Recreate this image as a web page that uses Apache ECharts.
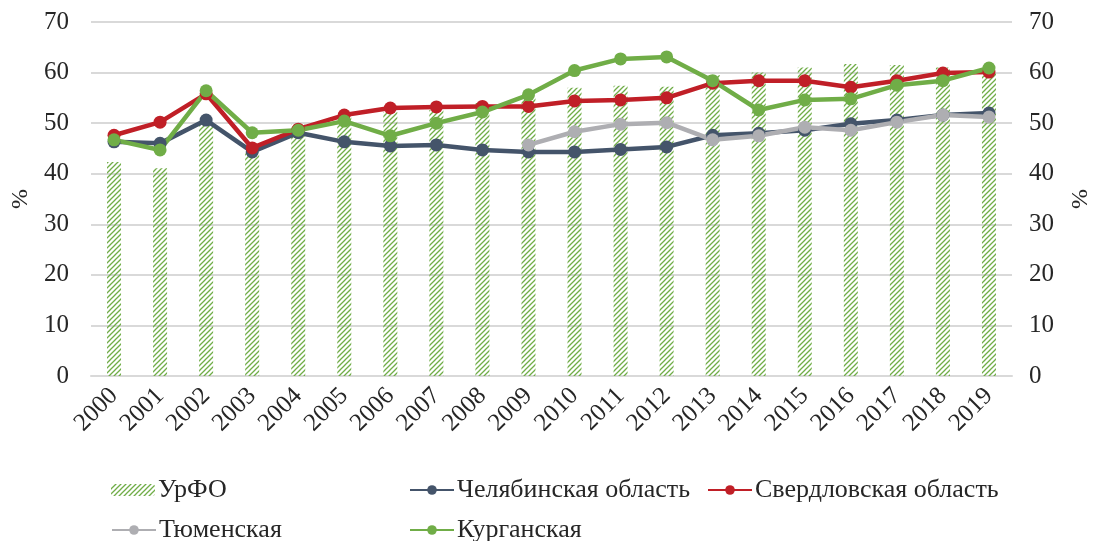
<!DOCTYPE html>
<html>
<head>
<meta charset="utf-8">
<script src="https://cdn.jsdelivr.net/npm/echarts@6/dist/echarts.min.js"></script>
<style>html,body{margin:0;padding:0;background:#fff;}#c{width:1094px;height:541px;}</style>
</head>
<body>
<div id="c"></div>
<script>
const years = ['2000','2001','2002','2003','2004','2005','2006','2007','2008','2009','2010','2011','2012','2013','2014','2015','2016','2017','2018','2019'];
const urfo = [42.3,41.1,49.8,44.3,49.8,51.5,52.2,52.6,54.0,55.0,57.0,57.4,57.2,59.5,60.0,61.0,61.7,61.5,61.0,60.0];
const chel = [46.3,46.0,50.6,44.3,48.1,46.3,45.5,45.7,44.7,44.3,44.3,44.8,45.3,47.6,48.0,48.6,49.9,50.6,51.6,52.0];
const sverd = [47.6,50.2,55.8,45.1,48.8,51.6,53.0,53.2,53.3,53.3,54.4,54.6,55.0,57.9,58.4,58.4,57.1,58.4,59.9,60.1];
const tyum = [null,null,null,null,null,null,null,null,null,45.7,48.3,49.8,50.1,46.7,47.5,49.2,48.6,50.2,51.6,51.2];
const kurg = [46.7,44.7,56.4,48.1,48.6,50.4,47.5,50.0,52.2,55.6,60.4,62.7,63.1,58.4,52.6,54.6,54.8,57.5,58.4,60.9];
const yTicks = [0,10,20,30,40,50,60,70];

const names = ['УрФО','Челябинская область','Свердловская область','Тюменская','Курганская'];

// hatch pattern
const pc = document.createElement('canvas');
pc.width = 5; pc.height = 5;
const px = pc.getContext('2d');
px.strokeStyle = '#70AD47';
px.lineWidth = 1.3;
px.beginPath();
px.moveTo(-1,6); px.lineTo(6,-1);
px.moveTo(-6,6); px.lineTo(1,-1);
px.moveTo(4,6); px.lineTo(11,-1);
px.stroke();
const hatch = {image: pc, repeat: 'repeat'};

const font = 'Liberation Serif';
const txt = '#262626';

const chart = echarts.init(document.getElementById('c'), null, {renderer:'canvas'});
function lineSeries(name, data, color){
  return {name, type:'line', data, symbol:'circle', symbolSize:13,
    lineStyle:{color, width:4.5}, itemStyle:{color}, connectNulls:false, animation:false};
}
function legendAt(name, left, top){
  return {data:[name], left, top, itemWidth:44, itemHeight:12, itemGap:0,
    textStyle:{fontFamily:font, fontSize:26, color:txt, padding:[0,0,0,-2]}, selectedMode:false};
}
const option = {
  animation:false,
  backgroundColor:'#fff',
  grid:{left:91, right:82, top:22, bottom:165, containLabel:false, outerBoundsMode:'none'},
  legend:[
    legendAt(names[0],106,472),
    legendAt(names[1],404,472),
    legendAt(names[2],702,472),
    legendAt(names[3],106,512),
    legendAt(names[4],404,512)
  ],
  xAxis:{type:'category', data:years, boundaryGap:true,
    axisLine:{lineStyle:{color:'#D9D9D9', width:2}}, axisTick:{show:false},
    axisLabel:{rotate:45, fontFamily:font, fontSize:25, color:txt, margin:16, interval:0}},
  yAxis:[
    {type:'value', min:0, max:70, interval:10, name:'%', nameLocation:'middle', nameGap:56,
     nameTextStyle:{fontFamily:font, fontSize:24, color:txt},
     axisLabel:{fontFamily:font, fontSize:25, color:txt, margin:22},
     splitLine:{lineStyle:{color:'#D9D9D9', width:2}}, axisLine:{show:false}, axisTick:{show:false}},
    {type:'value', min:0, max:70, interval:10, name:'%', nameLocation:'middle', nameGap:57, nameRotate:90,
     nameTextStyle:{fontFamily:font, fontSize:24, color:txt},
     axisLabel:{fontFamily:font, fontSize:25, color:txt, margin:17},
     splitLine:{show:false}, axisLine:{show:false}, axisTick:{show:false}}
  ],
  series:[
    {name:names[0], type:'bar', data:urfo, barWidth:14, itemStyle:{color:hatch}},
    lineSeries(names[1], chel, '#44546A'),
    lineSeries(names[2], sverd, '#C01F27'),
    lineSeries(names[3], tyum, '#AEAEB2'),
    lineSeries(names[4], kurg, '#70AD47')
  ]
};
chart.setOption(option);
</script>
</body>
</html>
